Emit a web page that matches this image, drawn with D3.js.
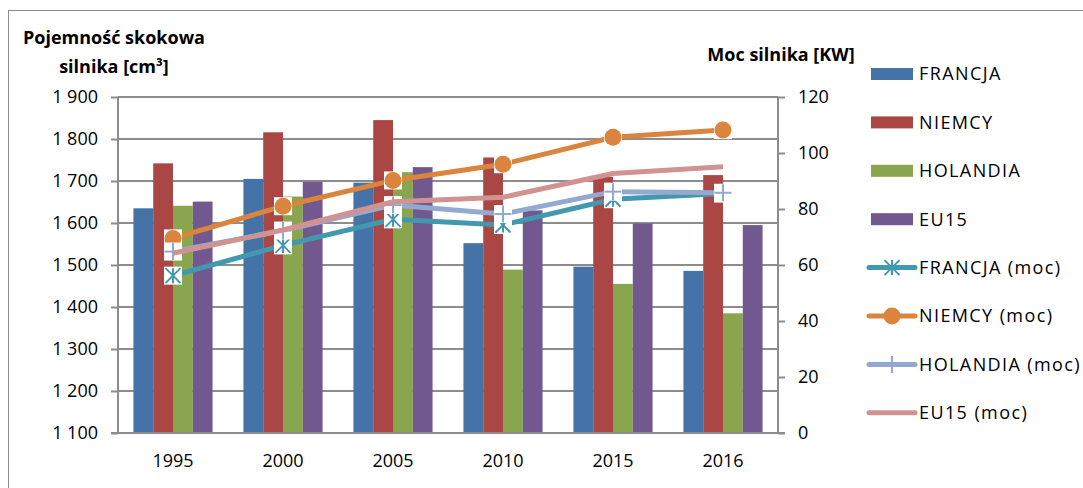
<!DOCTYPE html>
<html>
<head>
<meta charset="utf-8">
<script src="https://cdn.jsdelivr.net/npm/d3@7"></script>
<style>
  body { margin: 0; background: #fff; }
  text { font-family: "Open Sans", "Liberation Sans", sans-serif; fill: #000; }
</style>
</head>
<body>
<script>
// categories and values
var years = ["1995", "2000", "2005", "2010", "2015", "2016"];

// engine capacity [cm3], bars on the left axis
var francja = [1635, 1705, 1696, 1552, 1496, 1486];
var niemcy = [1742, 1816, 1845, 1756, 1710, 1714];
var holandia = [1641, 1663, 1721, 1489, 1455, 1385];
var eu15 = [1651, 1698, 1733, 1630, 1599, 1595];

// engine power [KW], lines on the right axis
var francjaMoc = [56.2, 67, 76.3, 74.3, 83.5, 85.5];
var niemcyMoc = [69.5, 81, 90.2, 96, 105.6, 108.2];
var holandiaMoc = [64.8, 72.3, 81.4, 78.2, 86.2, 85.8];
var eu15Moc = [64.2, 72.5, 82.6, 84.2, 92.7, 95.1];

var leftTicks = [1100, 1200, 1300, 1400, 1500, 1600, 1700, 1800, 1900];
var rightTicks = [0, 20, 40, 60, 80, 100, 120];

var barNames = ["FRANCJA", "NIEMCY", "HOLANDIA", "EU15"];
var lineNames = ["FRANCJA (moc)", "NIEMCY (moc)", "HOLANDIA (moc)", "EU15 (moc)"];

window.onload = function() {
  var width = 1083,
      height = 488;

  var barColors = ["#4572A7", "#AA4643", "#89A54E", "#71588F"];
  var lineColors = ["#4198AF", "#DB843D", "#93A9CF", "#D19392"];
  var markers = ["star", "circle", "plus", "none"];
  var gridColor = "#8c8c8c";

  // plot area
  var plot = {left: 118, right: 778, top: 97, bottom: 433};

  var svg = d3.select("body")
              .append("svg")
              .attr("width", width)
              .attr("height", height);

  // outer frame
  svg.append("rect")
     .attr("x", 8.5)
     .attr("y", 10.5)
     .attr("width", 1100)
     .attr("height", 500)
     .style("fill", "none")
     .style("stroke", "#8c8c8c")
     .style("stroke-width", 1);

  // scales
  var xScale = d3.scaleBand()
                 .domain(years)
                 .range([plot.left, plot.right]);

  var xInner = d3.scaleBand()
                 .domain(barNames)
                 .range([0, xScale.bandwidth()])
                 .paddingOuter(0.78);

  var yLeft = d3.scaleLinear()
                .domain([1100, 1900])
                .range([plot.bottom, plot.top]);

  var yRight = d3.scaleLinear()
                 .domain([0, 120])
                 .range([plot.bottom, plot.top]);

  // gridlines
  svg.append("g")
     .attr("class", "grid")
     .selectAll("line")
     .data(leftTicks)
     .enter()
     .append("line")
     .attr("x1", plot.left)
     .attr("x2", plot.right)
     .attr("y1", function(d) { return yLeft(d); })
     .attr("y2", function(d) { return yLeft(d); })
     .style("stroke", gridColor)
     .style("stroke-width", 2);

  // bars
  var barData = [francja, niemcy, holandia, eu15];
  var groups = svg.append("g")
                  .attr("class", "bars")
                  .selectAll("g")
                  .data(years)
                  .enter()
                  .append("g")
                  .attr("transform", function(d) { return "translate(" + xScale(d) + ",0)"; });

  groups.selectAll("rect")
        .data(function(d, i) {
          return barNames.map(function(name, j) {
            return {name: name, value: barData[j][i], color: barColors[j]};
          });
        })
        .enter()
        .append("rect")
        .attr("x", function(d) { return xInner(d.name); })
        .attr("width", xInner.bandwidth())
        .attr("y", function(d) { return yLeft(d.value); })
        .attr("height", function(d) { return plot.bottom - yLeft(d.value); })
        .style("fill", function(d) { return d.color; });

  // axes
  var leftAxis = d3.axisLeft(yLeft)
                   .tickValues(leftTicks)
                   .tickSize(7)
                   .tickPadding(13)
                   .tickFormat(function(d) { return d3.format(",")(d).replace(",", " "); });

  var rightAxis = d3.axisRight(yRight)
                    .tickValues(rightTicks)
                    .tickSize(7)
                    .tickPadding(13);

  var xAxis = d3.axisBottom(xScale)
                .tickSize(0)
                .tickPadding(21);

  var gl = svg.append("g")
              .attr("class", "y axis")
              .attr("transform", "translate(" + plot.left + ",0)")
              .call(leftAxis);

  var gr = svg.append("g")
              .attr("class", "y2 axis")
              .attr("transform", "translate(" + plot.right + ",0)")
              .call(rightAxis);

  var gx = svg.append("g")
              .attr("class", "x axis")
              .attr("transform", "translate(0," + plot.bottom + ")")
              .call(xAxis);

  [gl, gr, gx].forEach(function(g) {
    g.selectAll("path, line")
     .style("stroke", gridColor)
     .style("stroke-width", 2);
    g.selectAll("text")
     .style("font-size", "18px")
     .style("font-family", "'Open Sans', sans-serif")
     .style("fill", "#000");
  });
  gl.select(".domain").attr("d", "M0," + plot.top + "V" + plot.bottom);
  gr.select(".domain").attr("d", "M0," + plot.top + "V" + plot.bottom);
  gx.select(".domain").attr("d", "M" + (plot.left - 7) + ",0H" + (plot.right + 7));

  // lines
  var lineData = [francjaMoc, niemcyMoc, holandiaMoc, eu15Moc];
  var line = d3.line()
               .x(function(d, i) { return xScale(years[i]) + xScale.bandwidth() / 2; })
               .y(function(d) { return yRight(d); });

  lineData.forEach(function(series, k) {
    var g = svg.append("g").attr("class", "series");
    g.append("path")
     .datum(series)
     .attr("d", line)
     .style("fill", "none")
     .style("stroke", lineColors[k])
     .style("stroke-width", 5);

    if (markers[k] == "none") return;

    var pts = g.selectAll("g.pt")
               .data(series)
               .enter()
               .append("g")
               .attr("transform", function(d, i) {
                 return "translate(" + (xScale(years[i]) + xScale.bandwidth() / 2) + "," + yRight(d) + ")";
               });

    pts.append("rect")
       .attr("x", -9)
       .attr("y", -9)
       .attr("width", 18)
       .attr("height", 18)
       .style("fill", "#fff");

    drawMarker(pts, markers[k], lineColors[k]);
  });

  // legend
  var legend = svg.append("g").attr("class", "legend");
  var rowY = function(i) { return 74 + i * 48.4; };

  legend.selectAll("rect")
        .data(barNames)
        .enter()
        .append("rect")
        .attr("x", 871)
        .attr("y", function(d, i) { return rowY(i) - 6; })
        .attr("width", 42)
        .attr("height", 12)
        .style("fill", function(d, i) { return barColors[i]; });

  lineNames.forEach(function(name, k) {
    var y = rowY(k + 4);
    legend.append("line")
          .attr("x1", 869)
          .attr("x2", 915)
          .attr("y1", y)
          .attr("y2", y)
          .style("stroke", lineColors[k])
          .style("stroke-width", 5)
          .style("stroke-linecap", "round");
    if (markers[k] != "none") {
      var m = legend.append("g").attr("transform", "translate(892," + y + ")");
      drawMarker(m, markers[k], lineColors[k]);
    }
  });

  legend.selectAll("text")
        .data(barNames.concat(lineNames))
        .enter()
        .append("text")
        .attr("x", 919)
        .attr("y", function(d, i) { return rowY(i); })
        .attr("dy", "0.35em")
        .style("font-size", "18px")
        .style("letter-spacing", "1.4px")
        .text(function(d) { return d; });

  // axis titles
  svg.append("text")
     .attr("x", 114)
     .attr("y", 44)
     .style("text-anchor", "middle")
     .style("font-size", "18px")
     .style("font-weight", "bold")
     .text("Pojemność skokowa");

  svg.append("text")
     .attr("x", 114)
     .attr("y", 73)
     .style("text-anchor", "middle")
     .style("font-size", "18px")
     .style("font-weight", "bold")
     .text("silnika [cm³]");

  svg.append("text")
     .attr("x", 781)
     .attr("y", 61)
     .style("text-anchor", "middle")
     .style("font-size", "18px")
     .style("font-weight", "bold")
     .text("Moc silnika [KW]");
};

// draws a marker symbol into the selection, centred on 0,0
function drawMarker(sel, type, color) {
  if (type == "circle") {
    sel.append("circle")
       .attr("r", 8.5)
       .style("fill", color);
  }
  else if (type == "star") {
    var s = 7.5;
    [[0, -s, 0, s], [-s, -s, s, s], [-s, s, s, -s]].forEach(function(p) {
      sel.append("line")
         .attr("x1", p[0]).attr("y1", p[1])
         .attr("x2", p[2]).attr("y2", p[3])
         .style("stroke", color)
         .style("stroke-width", 2);
    });
  }
  else if (type == "plus") {
    var s = 8.5;
    [[0, -s, 0, s], [-s, 0, s, 0]].forEach(function(p) {
      sel.append("line")
         .attr("x1", p[0]).attr("y1", p[1])
         .attr("x2", p[2]).attr("y2", p[3])
         .style("stroke", color)
         .style("stroke-width", 2);
    });
  }
}
</script>
</body>
</html>
